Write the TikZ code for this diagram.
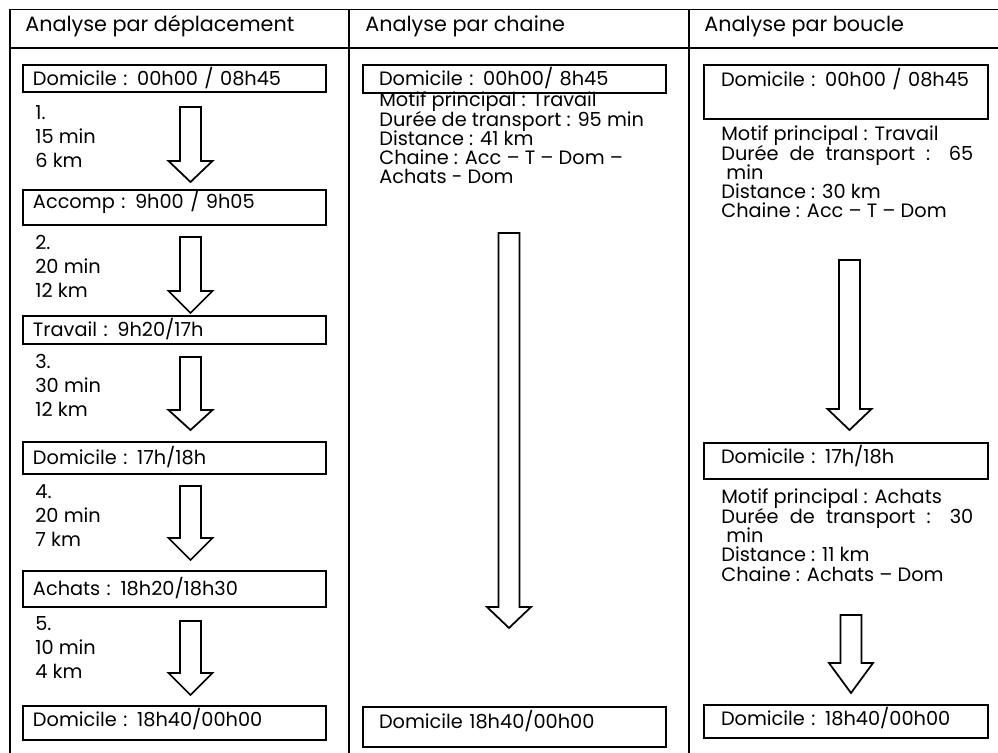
\documentclass[tikz,border=0pt]{standalone}
\usepackage{fontspec}
\setmainfont{Poppins}
\newcommand{\tightlines}{\lineskiplimit -20pt\relax}
\newcommand{\blockarrow}[4]{%
  \draw[blockline] (#1-10.5,#2) -- (#1+10.5,#2) -- (#1+10.5,#3) -- (#1+22,#3)
    -- (#1,#4) -- (#1-22,#3) -- (#1-10.5,#3) -- cycle;}
\begin{document}
\begin{tikzpicture}[x=0.02cm,y=-0.02cm,
    rule/.style={line width=1.1pt},
    blockline/.style={line width=1pt, line join=miter},
    head/.style={anchor=base west, inner sep=0pt, font=\fontsize{11.8}{13}\selectfont},
    tbox/.style={draw, line width=1.1pt, anchor=north west, align=left, outer sep=0pt,
      inner ysep=0pt, text height=7.7pt, text depth=0pt, font=\fontsize{11}{12}\selectfont},
    colA/.style={tbox, text width=5.66cm, inner xsep=0.2cm},
    colB/.style={tbox, text width=5.42cm, inner xsep=0.32cm},
    colC/.style={tbox, text width=5.0cm, inner xsep=0.34cm},
    steptext/.style={anchor=base west, align=left, inner sep=0pt,
      font={\fontsize{11}{13.66}\selectfont\tightlines}},
    infotext/.style={anchor=base west, align=left, inner sep=0pt,
      font={\fontsize{11}{11}\selectfont\tightlines}}]
  \useasboundingbox (0,0) rectangle (998,753);
  % table
  \draw[rule] (10,9.5) -- (998,9.5);
  \draw[rule] (10,48) -- (998,48);
  \foreach \x in {10,349,689}
    \draw[rule] (\x,9.5) -- (\x,753);
  \node[head] (hA) at (25,32) {Analyse par déplacement};
  \node[head] (hB) at (365,32) {Analyse par chaine};
  \node[head] (hC) at (704,32) {Analyse par boucle};

  % analyse par deplacement
  \node[colA, minimum height=0.54cm] (domA) at (23,65) {Domicile : 00h00 / 08h45};
  \node[colA, minimum height=0.70cm, text depth=0.24cm] (acc) at (23,190) {Accomp : 9h00 / 9h05};
  \node[colA, minimum height=0.56cm] (trav) at (23,316) {Travail : 9h20/17h};
  \node[colA, minimum height=0.64cm] (domB) at (23,442) {Domicile : 17h/18h};
  \node[colA, minimum height=0.72cm] (ach) at (23,571) {Achats : 18h20/18h30};
  \node[colA, minimum height=0.68cm, text depth=0.12cm] (domC) at (23,706) {Domicile : 18h40/00h00};
  % base = last line
  \node[steptext] (dep1) at (35,168) {1.\\15 min\\6 km};
  \node[steptext] (dep2) at (35,298) {2.\\20 min\\12 km};
  \node[steptext] (dep3) at (35,417) {3.\\30 min\\12 km};
  \node[steptext] (dep4) at (35,546) {4.\\20 min\\7 km};
  \node[steptext] (dep5) at (35,678) {5.\\10 min\\4 km};
  \foreach \ya/\yb/\yc in {107/161/182, 237/291/313, 357/410/430, 486/538/560, 621/673/695}
    {\blockarrow{190.5}{\ya}{\yb}{\yc}}

  % analyse par chaine
  \node[colB, minimum height=0.56cm] (chdom) at (363,65) {Domicile : 00h00/ 8h45};
  \node[infotext] (chinfo) at (379,184) {Motif principal : Travail\\Durée de transport : 95 min\\Distance : 41 km\\Chaine : Acc – T – Dom –\\Achats - Dom};
  \node[colB, minimum height=0.80cm, text depth=0.22cm] (chfin) at (363,707) {Domicile 18h40/00h00};
  \blockarrow{509}{233}{607}{628}

  % analyse par boucle
  \node[colC, minimum height=1.08cm, text depth=0.48cm] (bdomA) at (704,65) {Domicile : 00h00 / 08h45};
  \node[infotext] (binfoA) at (721,218) {Motif principal : Travail\\\makebox[5.04cm][s]{Durée de transport : 65}\\\hspace{0.1cm}min\\Distance : 30 km\\Chaine : Acc – T – Dom};
  \node[colC, minimum height=0.72cm, text depth=0.18cm] (bdomB) at (704,443) {Domicile : 17h/18h};
  \node[infotext] (binfoB) at (721,581) {Motif principal : Achats\\\makebox[5.04cm][s]{Durée de transport : 30}\\\hspace{0.1cm}min\\Distance : 11 km\\Chaine : Achats – Dom};
  \node[colC, minimum height=0.66cm, text depth=0.12cm] (bdomC) at (704,705) {Domicile : 18h40/00h00};
  \blockarrow{849.5}{260}{409}{430}
  \blockarrow{851}{615}{663}{693}
\end{tikzpicture}
\end{document}
